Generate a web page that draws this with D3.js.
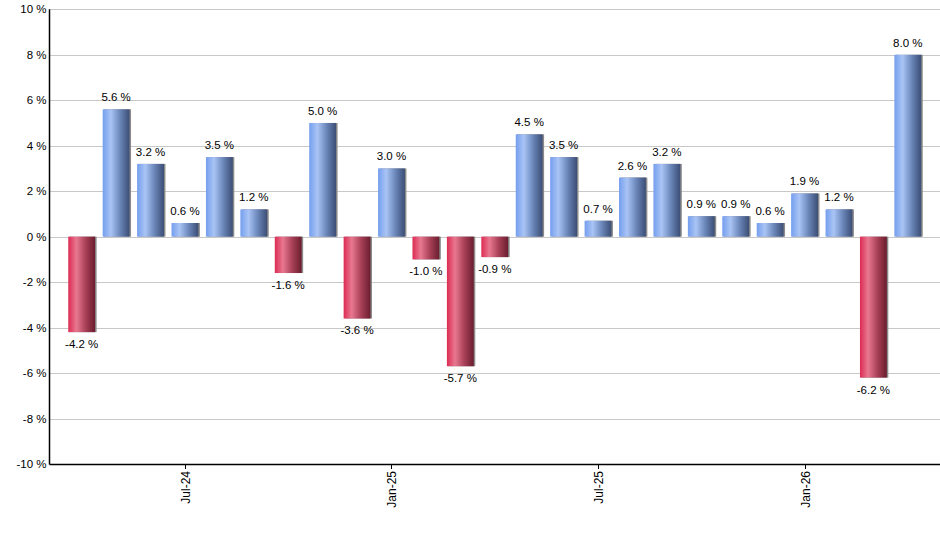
<!DOCTYPE html>
<html>
<head>
<meta charset="utf-8">
<script src="https://cdn.jsdelivr.net/npm/d3@7"></script>
<style>
body{margin:0;background:#fff;}
svg{display:block;font-family:"Liberation Sans",Arial,sans-serif;}
</style>
</head>
<body>
<svg id="chart" width="940" height="550"></svg>
<script>
const months = ["Apr-24","May-24","Jun-24","Jul-24","Aug-24","Sep-24","Oct-24","Nov-24","Dec-24","Jan-25","Feb-25","Mar-25","Apr-25","May-25","Jun-25","Jul-25","Aug-25","Sep-25","Oct-25","Nov-25","Dec-25","Jan-26","Feb-26","Mar-26","Apr-26"];
const values = [-4.2,5.6,3.2,0.6,3.5,1.2,-1.6,5.0,-3.6,3.0,-1.0,-5.7,-0.9,4.5,3.5,0.7,2.6,3.2,0.9,0.9,0.6,1.9,1.2,-6.2,8.0];
const tickMonths = ["Jul-24","Jan-25","Jul-25","Jan-26"];
const yTicks = [-10,-8,-6,-4,-2,0,2,4,6,8,10];

const svg = d3.select("#chart");
const pL = 49.5, pR = 940, pT = 9.3, pB = 464;

const x = d3.scaleBand().domain(months).range([pL, pR]).paddingInner(0.22).paddingOuter(0.545);
const y = d3.scaleLinear().domain([-10, 10]).range([pB, pT]);

const defs = svg.append("defs");
function grad(id, stops){
  const g = defs.append("linearGradient").attr("id", id).attr("x1", 0).attr("x2", 1).attr("y1", 0).attr("y2", 0);
  stops.forEach(s => g.append("stop").attr("offset", s[0]).attr("stop-color", s[1]));
}
grad("gBlue", [[0,"#749eee"],[0.3,"#a9c4f5"],[0.65,"#6a85b8"],[1,"#3b4e75"]]);
grad("gRed", [[0,"#dc2b53"],[0.3,"#e87890"],[0.65,"#a84057"],[1,"#6a1d2e"]]);

// gridlines
svg.append("g").selectAll("line").data(yTicks).join("line")
  .attr("x1", pL).attr("x2", pR)
  .attr("y1", d => Math.round(y(d)) + 0.5).attr("y2", d => Math.round(y(d)) + 0.5)
  .attr("stroke", "#c8c8c8").attr("stroke-width", 1);

// y labels
svg.append("g").selectAll("text").data(yTicks).join("text")
  .attr("x", pL - 3).attr("y", d => y(d) + 4)
  .attr("text-anchor", "end").attr("font-size", 11.5).attr("fill", "#000")
  .text(d => d + " %");

// bars
const bars = svg.append("g");
values.forEach((v, i) => {
  const m = months[i];
  const x0 = x(m), w = x.bandwidth();
  const y0 = y(Math.max(0, v)), h = Math.abs(y(v) - y(0));
  bars.append("rect").attr("x", x0 + 1.5).attr("y", y0).attr("width", w).attr("height", h).attr("fill", "#8a8a8a");
  bars.append("rect").attr("x", x0).attr("y", y0).attr("width", w).attr("height", h)
    .attr("fill", v >= 0 ? "url(#gBlue)" : "url(#gRed)");
  svg.append("text")
    .attr("x", x0 + w / 2)
    .attr("y", v >= 0 ? y(v) - 8 : y(v) + 16)
    .attr("text-anchor", "middle").attr("font-size", 11.5).attr("fill", "#000")
    .text(v.toFixed(1) + " %");
});

// axes lines
svg.append("line").attr("x1", pL).attr("x2", pL).attr("y1", pT).attr("y2", pB + 0.5).attr("stroke", "#000").attr("stroke-width", 1.5);
svg.append("line").attr("x1", pL).attr("x2", pR).attr("y1", pB + 0.5).attr("y2", pB + 0.5).attr("stroke", "#000").attr("stroke-width", 1.5);

// x ticks
const xt = svg.append("g").selectAll("g").data(tickMonths).join("g")
  .attr("transform", d => `translate(${Math.round(x(d) + x.bandwidth() / 2) + 0.5},${pB})`);
xt.append("line").attr("y1", 0).attr("y2", 5).attr("stroke", "#000").attr("stroke-width", 1);
xt.append("text").attr("transform", "translate(4,7) rotate(-90)")
  .attr("text-anchor", "end").attr("font-size", 12).attr("fill", "#000")
  .text(d => d);
</script>
</body>
</html>
